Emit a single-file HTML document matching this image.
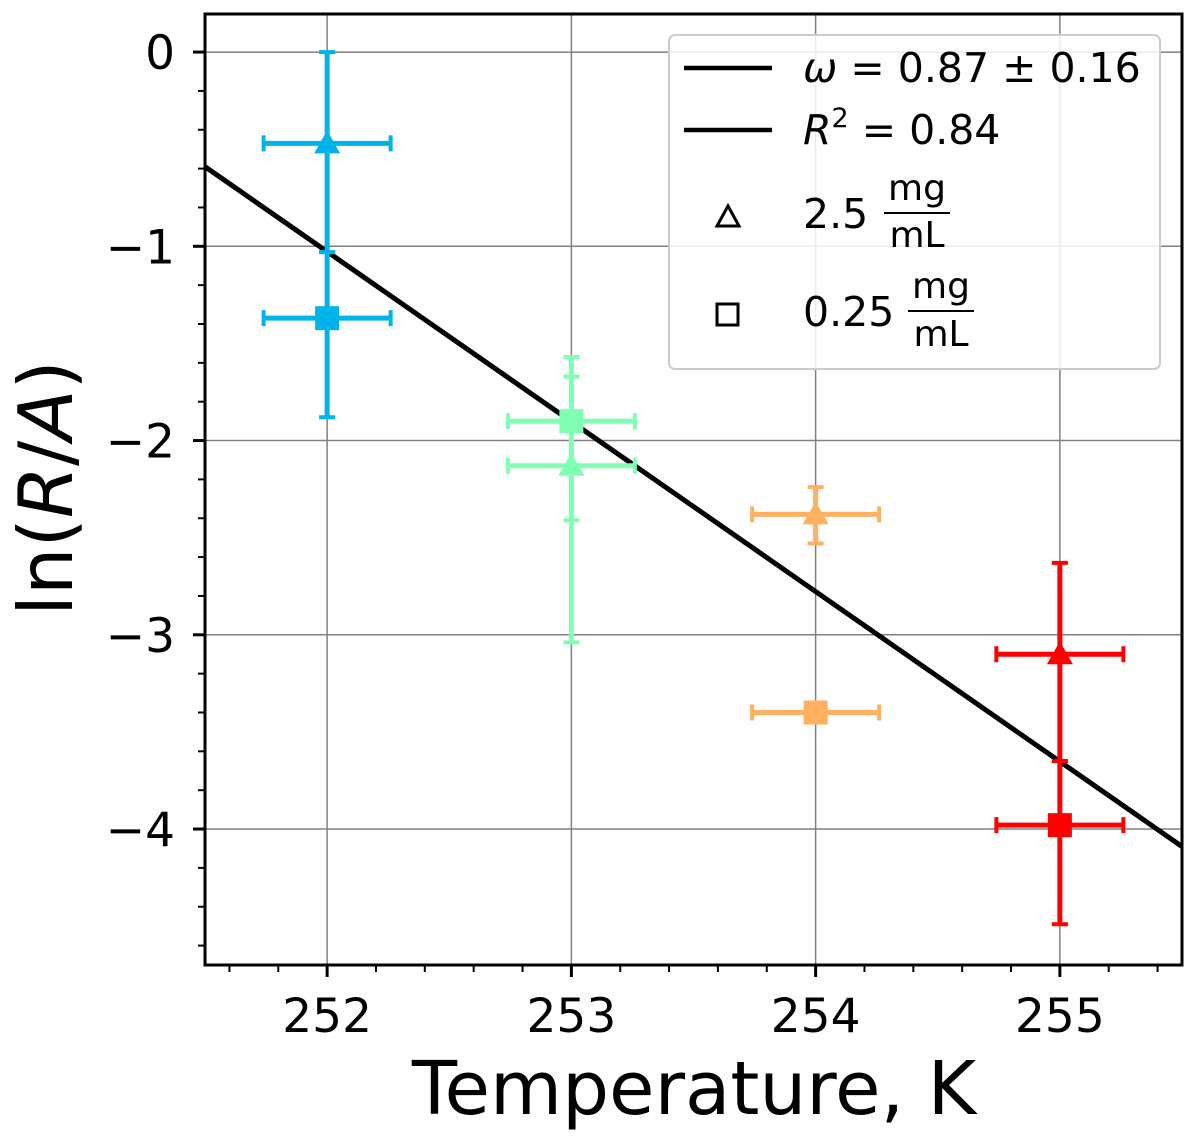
<!DOCTYPE html>
<html><head><meta charset="utf-8"><style>
html,body{margin:0;padding:0;background:#fff}
svg{display:block;font-family:"DejaVu Sans","Liberation Sans",sans-serif}
</style></head><body>
<svg id="chart" width="1196" height="1144" viewBox="0 0 1196 1144" xmlns="http://www.w3.org/2000/svg">
<g id="grid"></g>
<g id="marks"></g>
<rect x="205" y="14" width="977" height="951" fill="none" stroke="#000" stroke-width="3"/>
<g id="ticks"></g>
<text x="694" y="1114" font-size="74" text-anchor="middle">Temperature, K</text>
<text transform="translate(72,488) rotate(-90)" font-size="75" text-anchor="middle">ln(<tspan font-style="italic">R</tspan>/<tspan font-style="italic">A</tspan>)</text>
<g>
<rect x="669" y="35" width="491" height="334" rx="6" fill="#fff" fill-opacity="0.85" stroke="#ccc" stroke-width="2"/>
<line x1="684" y1="68" x2="772" y2="68" stroke="#000" stroke-width="4.5"/>
<text x="803" y="82" font-size="41"><tspan font-style="italic">ω</tspan> = 0.87 ± 0.16</text>
<line x1="684" y1="130" x2="772" y2="130" stroke="#000" stroke-width="4.5"/>
<text x="803" y="144" font-size="41"><tspan font-style="italic">R</tspan><tspan font-size="27" dy="-17">2</tspan><tspan dy="17"> = 0.84</tspan></text>
<polygon points="728,206 717,226 739,226" fill="none" stroke="#000" stroke-width="3"/>
<text x="803" y="228" font-size="41">2.5</text>
<text x="917" y="200" font-size="36" text-anchor="middle">mg</text>
<line x1="884" y1="213" x2="950" y2="213" stroke="#000" stroke-width="2"/>
<text x="917" y="247" font-size="36" text-anchor="middle">mL</text>
<rect x="717" y="304" width="21" height="21" fill="none" stroke="#000" stroke-width="3"/>
<text x="803" y="326" font-size="41">0.25</text>
<text x="941" y="298" font-size="36" text-anchor="middle">mg</text>
<line x1="908" y1="311" x2="974" y2="311" stroke="#000" stroke-width="2"/>
<text x="941" y="346" font-size="36" text-anchor="middle">mL</text>
</g>
</svg>
<script>
const xTicks=[252,253,254,255];
const yTicks=[0,-1,-2,-3,-4];
const temps=[252,253,254,255];
const colors=['#00b3e8','#80ffb4','#ffb060','#ff0000'];
const triY=[-0.47,-2.13,-2.38,-3.10];
const triHi=[0,-1.67,-2.24,-2.63];
const triLo=[-1.03,-3.04,-2.53,-3.65];
const sqY=[-1.37,-1.90,-3.40,-3.98];
const sqHi=[-1.03,-1.57,-3.40,-3.65];
const sqLo=[-1.88,-2.41,-3.40,-4.49];
const xErr=[0.26,0.26,0.26,0.26];
const fitSlope=-0.875, fitX0=251.5, fitY0=-0.59;
const X0=251.5,X1=255.5,Y0=-4.7,Y1=0.196;
const L=205,R=1182,T=14,B=965;
const sx=v=>L+(v-X0)/(X1-X0)*(R-L);
const sy=v=>B-(v-Y0)/(Y1-Y0)*(B-T);
const NS='http://www.w3.org/2000/svg';
function mk(tag,attrs,parent){const e=document.createElementNS(NS,tag);for(const k in attrs)e.setAttribute(k,attrs[k]);parent.appendChild(e);return e;}
const grid=document.getElementById('grid'),ticks=document.getElementById('ticks'),marks=document.getElementById('marks');
xTicks.forEach(t=>{
 const g=mk('line',{x1:sx(t),x2:sx(t),y1:T,y2:B,stroke:'#808080','stroke-width':1.5},grid);
 
 
 const tk=mk('line',{x1:sx(t),x2:sx(t),y1:B,y2:B+12,stroke:'#000','stroke-width':3},ticks);
 
 
 const tx=mk('text',{x:sx(t),y:B+67,'font-size':47,'text-anchor':'middle'},ticks);
 tx.textContent=t;
 
 
});
for(let v=251.6;v<255.5;v+=0.2){
 if(Math.abs(v-Math.round(v))<0.01)continue;
 const m=mk('line',{x1:sx(v),x2:sx(v),y1:B,y2:B+7,stroke:'#000','stroke-width':2},ticks);
 
 
}
yTicks.forEach(t=>{
 const g=mk('line',{x1:L,x2:R,y1:sy(t),y2:sy(t),stroke:'#808080','stroke-width':1.5},grid);
 
 
 const tk=mk('line',{x1:L-12,x2:L,y1:sy(t),y2:sy(t),stroke:'#000','stroke-width':3},ticks);
 
 
 const tx=mk('text',{x:L-30,y:sy(t)+17,'font-size':47,'text-anchor':'end'},ticks);
 tx.textContent=(t<0?'\u2212'+(-t):t);
 
 
});
for(let v=-4.6;v<0.2;v+=0.2){
 if(Math.abs(v-Math.round(v))<0.01)continue;
 const m=mk('line',{x1:L-7,x2:L,y1:sy(v),y2:sy(v),stroke:'#000','stroke-width':2},ticks);
 
 
}
const fit=mk('line',{x1:sx(X0),y1:sy(fitY0),x2:sx(X1),y2:sy(fitY0+fitSlope*(X1-fitX0)),stroke:'#000','stroke-width':5},marks);


function errbar(i,y,hi,lo,c,kind){
 const g=mk('g',{},marks);
 
 
 const x=sx(temps[i]);
 mk('line',{x1:x,x2:x,y1:sy(hi),y2:sy(lo),stroke:c,'stroke-width':5},g);
 [hi,lo].forEach(v=>{if(Math.abs(v-y)>0.01)mk('line',{x1:x-8,x2:x+8,y1:sy(v),y2:sy(v),stroke:c,'stroke-width':4},g);});
 const xl=sx(temps[i]-xErr[i]),xr=sx(temps[i]+xErr[i]);
 mk('line',{x1:xl,x2:xr,y1:sy(y),y2:sy(y),stroke:c,'stroke-width':5},g);
 [xl,xr].forEach(xx=>mk('line',{x1:xx,x2:xx,y1:sy(y)-8,y2:sy(y)+8,stroke:c,'stroke-width':4},g));
 const yy=sy(y);
 if(kind==='triangle')mk('polygon',{points:`${x},${yy-13} ${x-13},${yy+10} ${x+13},${yy+10}`,fill:c},g);
 else mk('rect',{x:x-12,y:yy-12,width:24,height:24,fill:c},g);
}
temps.forEach((t,i)=>{
 errbar(i,triY[i],triHi[i],triLo[i],colors[i],'triangle');
 errbar(i,sqY[i],sqHi[i],sqLo[i],colors[i],'square');
});
</script>
</body></html>
